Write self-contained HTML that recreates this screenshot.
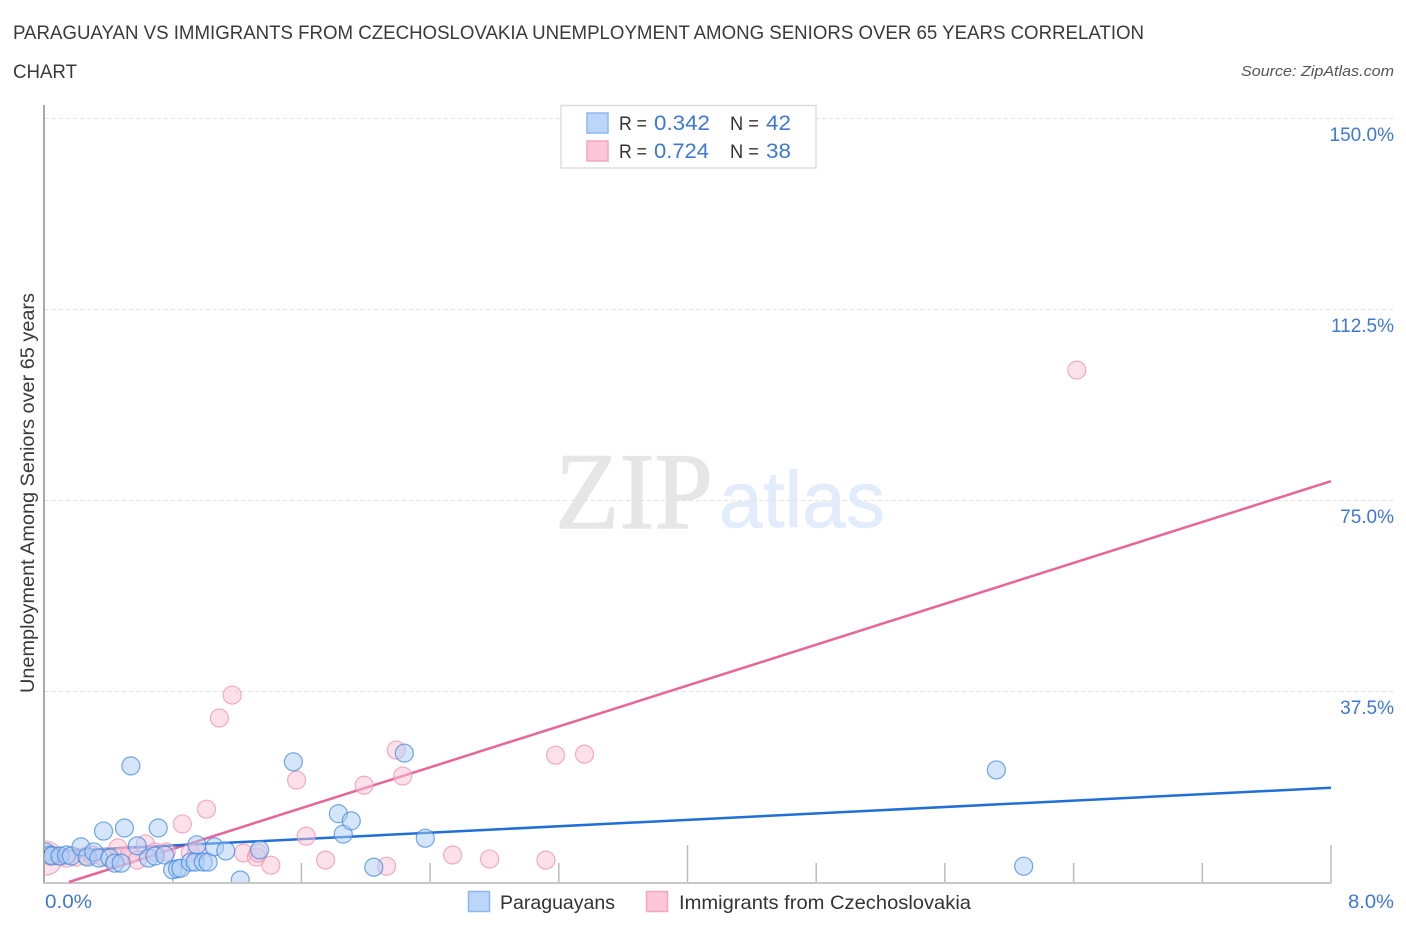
<!DOCTYPE html>
<html lang="en">
<head>
<meta charset="utf-8">
<title>Paraguayan vs Immigrants from Czechoslovakia Unemployment Among Seniors over 65 Years Correlation Chart</title>
<style>
html,body{margin:0;padding:0;background:#fff;}
svg{display:block;font-family:"Liberation Sans",sans-serif;}
</style>
</head>
<body>
<svg id="chart" xmlns="http://www.w3.org/2000/svg" width="1406" height="930" viewBox="0 0 1406 930">
  <defs>
    <clipPath id="plot-clip"><rect x="45" y="100" width="1300" height="782"/></clipPath>
  </defs>
  <rect x="0" y="0" width="1406" height="930" fill="#ffffff"/>
  <text x="13" y="39" font-size="19" fill="#3a3a3a" textLength="1131" lengthAdjust="spacingAndGlyphs">PARAGUAYAN VS IMMIGRANTS FROM CZECHOSLOVAKIA UNEMPLOYMENT AMONG SENIORS OVER 65 YEARS CORRELATION</text>
  <text x="13" y="78" font-size="19" fill="#3a3a3a" textLength="64" lengthAdjust="spacingAndGlyphs">CHART</text>
  <text x="1241" y="76" font-size="15" font-style="italic" fill="#555555" textLength="153" lengthAdjust="spacingAndGlyphs">Source: ZipAtlas.com</text>

  <text x="555" y="528" font-family="'Liberation Serif',serif" font-size="109" fill="#e6e6e6" stroke="#e6e6e6" stroke-width="1.200" textLength="158" lengthAdjust="spacingAndGlyphs">ZIP</text>
  <text x="719" y="527" font-size="80" fill="#e2ecfa" stroke="#e2ecfa" stroke-width="0.600" textLength="166" lengthAdjust="spacingAndGlyphs">atlas</text>

  <g id="grid"></g>
  <g id="ticks"></g>
  <line x1="44" y1="105" x2="44" y2="884" stroke="#aaaaaa" stroke-width="2"/>
  <line x1="43" y1="883" x2="1331" y2="883" stroke="#c8c8c8" stroke-width="2"/>
  <g id="ylabels"></g>
  <g id="trends"></g>
  <g id="pink-points" clip-path="url(#plot-clip)"></g>
  <g id="blue-points" clip-path="url(#plot-clip)"></g>

  <text x="45" y="908" font-size="19" fill="#3f78d4" textLength="47" lengthAdjust="spacingAndGlyphs">0.0%</text>
  <text x="1348" y="908" font-size="19" fill="#3f78d4" textLength="46" lengthAdjust="spacingAndGlyphs">8.0%</text>
  <text transform="translate(34,693) rotate(-90)" x="0" y="0" font-size="19" fill="#3a3a3a" textLength="400" lengthAdjust="spacingAndGlyphs">Unemployment Among Seniors over 65 years</text>

  <g>
    <rect x="561" y="105.500" width="255" height="62.500" fill="#ffffff" stroke="#dddddd" stroke-width="1.500"/>
    <rect x="587" y="113" width="21" height="20" fill="#bcd6fa" stroke="#8db8ec" stroke-width="1.500"/>
    <rect x="587" y="141" width="21" height="20" fill="#fcc8d9" stroke="#f3a6bf" stroke-width="1.500"/>
    <text x="619" y="130" font-size="19" fill="#333333" textLength="28" lengthAdjust="spacingAndGlyphs">R =</text>
    <text x="654" y="130" font-size="21" fill="#3f78d4" textLength="56" lengthAdjust="spacingAndGlyphs">0.342</text>
    <text x="730" y="130" font-size="19" fill="#333333" textLength="29" lengthAdjust="spacingAndGlyphs">N =</text>
    <text x="766" y="130" font-size="21" fill="#3f78d4" textLength="25" lengthAdjust="spacingAndGlyphs">42</text>
    <text x="619" y="158" font-size="19" fill="#333333" textLength="28" lengthAdjust="spacingAndGlyphs">R =</text>
    <text x="654" y="158" font-size="21" fill="#3f78d4" textLength="55" lengthAdjust="spacingAndGlyphs">0.724</text>
    <text x="730" y="158" font-size="19" fill="#333333" textLength="29" lengthAdjust="spacingAndGlyphs">N =</text>
    <text x="766" y="158" font-size="21" fill="#3f78d4" textLength="25" lengthAdjust="spacingAndGlyphs">38</text>
  </g>

  <g>
    <rect x="468.500" y="891.500" width="21" height="20" fill="#bcd6fa" stroke="#8db8ec" stroke-width="1.500"/>
    <text x="500" y="909" font-size="19.500" fill="#333333" textLength="115" lengthAdjust="spacingAndGlyphs">Paraguayans</text>
    <rect x="646.500" y="891.500" width="21" height="20" fill="#fcc8d9" stroke="#f3a6bf" stroke-width="1.500"/>
    <text x="679" y="909" font-size="19.500" fill="#333333" textLength="292" lengthAdjust="spacingAndGlyphs">Immigrants from Czechoslovakia</text>
  </g>
</svg>
<script>
const yTickValues = [150, 112.5, 75, 37.5];
const yTickLabels = ["150.0%", "112.5%", "75.0%", "37.5%"];
const xTickValues = [0.8, 1.6, 2.4, 3.2, 4, 4.8, 5.6, 6.4, 7.2, 8];
const xMajorTicks = [4, 8];
const blueX = [0.01,0.04,0.05,0.10,0.14,0.17,0.23,0.27,0.31,0.34,0.41,0.44,0.48,0.37,0.50,0.54,0.58,0.65,0.69,0.75,0.71,0.80,0.83,0.85,0.91,0.95,0.94,0.99,1.02,1.06,1.13,1.22,1.34,1.55,1.83,1.86,1.91,2.05,2.24,2.37,5.92,6.09];
const blueY = [5.9,5.3,5.1,5.1,5.3,5.1,6.9,4.9,5.9,4.7,4.7,3.7,3.7,10.0,10.6,22.8,7.1,4.7,5.1,5.3,10.6,2.4,2.6,2.7,3.9,7.3,3.9,3.9,3.9,6.9,6.1,0.4,6.3,23.6,13.4,9.4,12.0,2.9,25.3,8.6,22.0,3.1];
const pinkX = [0.01,0.04,0.09,0.14,0.20,0.26,0.30,0.37,0.46,0.48,0.53,0.58,0.63,0.69,0.76,0.86,0.91,0.95,1.01,1.09,1.17,1.24,1.32,1.33,1.41,1.57,1.63,1.75,1.99,2.13,2.19,2.23,2.54,2.77,3.12,3.18,3.36,6.42];
const pinkY = [4.7,5.1,5.1,4.7,4.9,5.1,5.3,4.9,6.7,5.1,5.3,4.3,7.5,5.9,5.9,11.4,5.7,5.9,14.3,32.2,36.7,5.7,4.9,5.7,3.3,20.0,9.0,4.3,19.0,3.1,25.9,20.8,5.3,4.5,4.3,24.9,25.1,100.5];
const blueTrend = [5.9, 18.5];
const pinkTrend = [-1.56, 78.7];

const SVGNS = "http://www.w3.org/2000/svg";
const xPos = v => 44 + v * 160.875;
const yPos = v => 882 - v * 5.0933;
const PLOT_BOTTOM = 882;

function el(tag, parent, attrs) {
  const node = document.createElementNS(SVGNS, tag);
  for (const k in attrs) node.setAttribute(k, attrs[k]);
  parent.appendChild(node);
  return node;
}

const gridGroup = document.getElementById("grid");
const labelGroup = document.getElementById("ylabels");
yTickValues.forEach((v, i) => {
  const y = yPos(v);
  const lineY = Math.round(y) + 0.5;
  const line = el("line", gridGroup, {x1: 45, x2: 1394, y1: lineY, y2: lineY, stroke: "#e2e2e2", "stroke-width": 1, "stroke-dasharray": "4 3"});
  
  
  const label = el("text", labelGroup, {x: 1394, y: y + 23, "text-anchor": "end", "font-size": 19, fill: "#3f78d4"});
  label.textContent = yTickLabels[i];
  
  
});

const tickGroup = document.getElementById("ticks");
xTickValues.forEach(v => {
  const major = xMajorTicks.includes(v);
  const x = xPos(v);
  const tick = el("line", tickGroup, {x1: x, x2: x, y1: major ? 845 : 863, y2: 883, stroke: "#bbbbbb", "stroke-width": 1.5});
  
  
});

function trendPoints(t) {
  const slope = t[1] - t[0];
  let startX = 0;
  if (yPos(t[0]) > PLOT_BOTTOM) startX = -t[0] / (slope / 8);
  const yAtStart = t[0] + (slope / 8) * startX;
  return {x1: xPos(startX), y1: yPos(yAtStart), x2: xPos(8), y2: yPos(t[1])};
}
const trendGroup = document.getElementById("trends");
const pinkLine = el("line", trendGroup, Object.assign(trendPoints(pinkTrend), {stroke: "#e8659a", "stroke-width": 2.5}));


const blueLine = el("line", trendGroup, Object.assign(trendPoints(blueTrend), {stroke: "#1f6fd6", "stroke-width": 2.5}));



const pinkGroup = document.getElementById("pink-points");
pinkX.forEach((v, i) => {
  const dot = el("circle", pinkGroup, {cx: xPos(v), cy: yPos(pinkY[i]), r: i === 0 ? 17 : 9, fill: "#fbc4d6", "fill-opacity": 0.5, stroke: "#f092b2", "stroke-opacity": 0.75, "stroke-width": 1.2});
  
  
});

const blueGroup = document.getElementById("blue-points");
blueX.forEach((v, i) => {
  const dot = el("circle", blueGroup, {cx: xPos(v), cy: yPos(blueY[i]), r: 9, fill: "#aecdf6", "fill-opacity": 0.5, stroke: "#3f86de", "stroke-opacity": 0.72, "stroke-width": 1.2});
  
  
});
</script>
</body>
</html>
